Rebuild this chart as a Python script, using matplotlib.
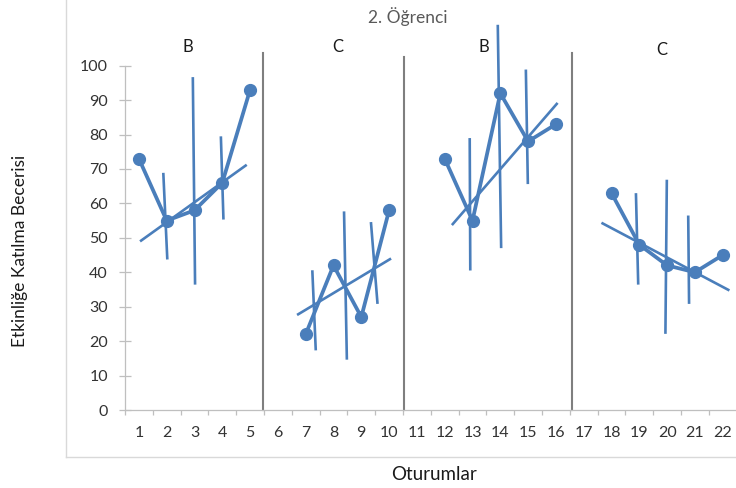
import matplotlib
matplotlib.use("Agg")
import matplotlib.pyplot as plt
from matplotlib.lines import Line2D

plt.rcParams['font.family'] = ['Lato', 'DejaVu Sans']

# --- data -------------------------------------------------------------
sessions = list(range(1, 23))
phase_names = ['B', 'C', 'B', 'C']
phase_sessions = [[1, 2, 3, 4, 5], [7, 8, 9, 10], [12, 13, 14, 15, 16], [18, 19, 20, 21, 22]]
phase_values = [[73, 55, 58, 66, 93], [22, 42, 27, 58], [73, 55, 92, 78, 83], [63, 48, 42, 40, 45]]
phase_label_x = [2.77, 8.16, 13.41, 19.82]
phase_label_y = [105.4, 105.4, 105.4, 104.6]

# phase change lines (x, top)
divider_x = [5.48, 10.53, 16.58]
divider_top = [103.6, 102.4, 103.6]

# trend lines per phase: (x0, x1), (y0, y1)
trend_x = [(1.08, 4.84), (6.73, 10.03), (12.29, 16.03), (17.68, 22.2)]
trend_y = [(49.2, 71.0), (27.8, 43.8), (54.0, 88.9), (54.2, 34.9)]

# hand drawn vertical lines: (x_top, x_bottom), (y_top, y_bottom)
vline_x = [(1.88, 2.02), (2.94, 3.02), (3.95, 4.04),
           (7.24, 7.36), (8.38, 8.48), (9.35, 9.58),
           (12.90, 12.92), (13.91, 14.03), (14.92, 14.99),
           (18.88, 18.96), (19.99, 19.94), (20.76, 20.79)]
vline_y = [(68.5, 44.1), (96.3, 36.8), (79.1, 55.7),
           (40.2, 17.7), (57.3, 15.0), (54.2, 31.2),
           (78.6, 40.9), (111.5, 47.4), (98.5, 66.0),
           (62.6, 36.8), (66.5, 22.5), (56.1, 31.2)]

blue = '#4A7EBB'
axis_gray = '#BFBFBF'
text_col = '#333333'

fig = plt.figure(figsize=(7.36, 4.88), dpi=100)
ax = fig.add_axes([125 / 736, 1 - 410 / 488, 611.6 / 736, (410 - 65.7) / 488])

# chart border (cropped)
fig.add_artist(Line2D([66 / 736, 66 / 736], [1.0, 1 - 457 / 488], transform=fig.transFigure,
                      color='#D9D9D9', lw=1.0))
fig.add_artist(Line2D([66 / 736, 1.0], [1 - 457 / 488, 1 - 457 / 488], transform=fig.transFigure,
                      color='#D9D9D9', lw=1.0))

for xs, ys in zip(phase_sessions, phase_values):
    ax.plot(xs, ys, color=blue, lw=2.7, marker='o', ms=8.5, zorder=4, clip_on=False)

for (x0, x1), (y0, y1) in zip(trend_x, trend_y):
    ax.plot([x0, x1], [y0, y1], color=blue, lw=1.9, zorder=3, clip_on=False)

for (x0, x1), (y0, y1) in zip(vline_x, vline_y):
    ax.plot([x0, x1], [y0, y1], color=blue, lw=1.9, zorder=3, clip_on=False)

for x, top in zip(divider_x, divider_top):
    ax.plot([x, x], [0, top], color='#7F7F7F', lw=1.5, zorder=2, clip_on=False)

for name, x, y in zip(phase_names, phase_label_x, phase_label_y):
    ax.text(x, y, name, ha='center', va='center', fontsize=12, color='#1a1a1a')

ax.set_xlim(0.5, 22.5)
ax.set_ylim(0, 100)
ax.set_yticks(range(0, 101, 10))
ax.set_xticks([i + 0.5 for i in range(0, 23)])
ax.set_xticklabels([])
ax.set_xticks(sessions, minor=True)
ax.set_xticklabels([str(s) for s in sessions], minor=True)

ax.tick_params(axis='y', direction='inout', length=8.5, width=0.9, color=axis_gray,
               labelsize=11.5, labelcolor=text_col, pad=8)
ax.tick_params(axis='x', which='major', direction='out', length=3.6, width=0.9, color=axis_gray)
ax.tick_params(axis='x', which='minor', length=0, labelsize=11.5, labelcolor=text_col, pad=11.5)

for s in ['top', 'right']:
    ax.spines[s].set_visible(False)
for s in ['left', 'bottom']:
    ax.spines[s].set_color(axis_gray)
    ax.spines[s].set_linewidth(0.9)
ax.patch.set_alpha(0)

fig.text(408 / 736, 1 - 17 / 488, '2. Öğrenci', ha='center', va='center', fontsize=12.5, color='#595959')
fig.text(20 / 736, 1 - 251 / 488, 'Etkinliğe Katılma Becerisi', ha='center', va='center',
         rotation=90, fontsize=12.5, color='#1a1a1a')
fig.text(434 / 736, 1 - 474 / 488, 'Oturumlar', ha='center', va='center', fontsize=13.5, color='#1a1a1a')

fig.savefig('out.png', dpi=100, facecolor='white')
